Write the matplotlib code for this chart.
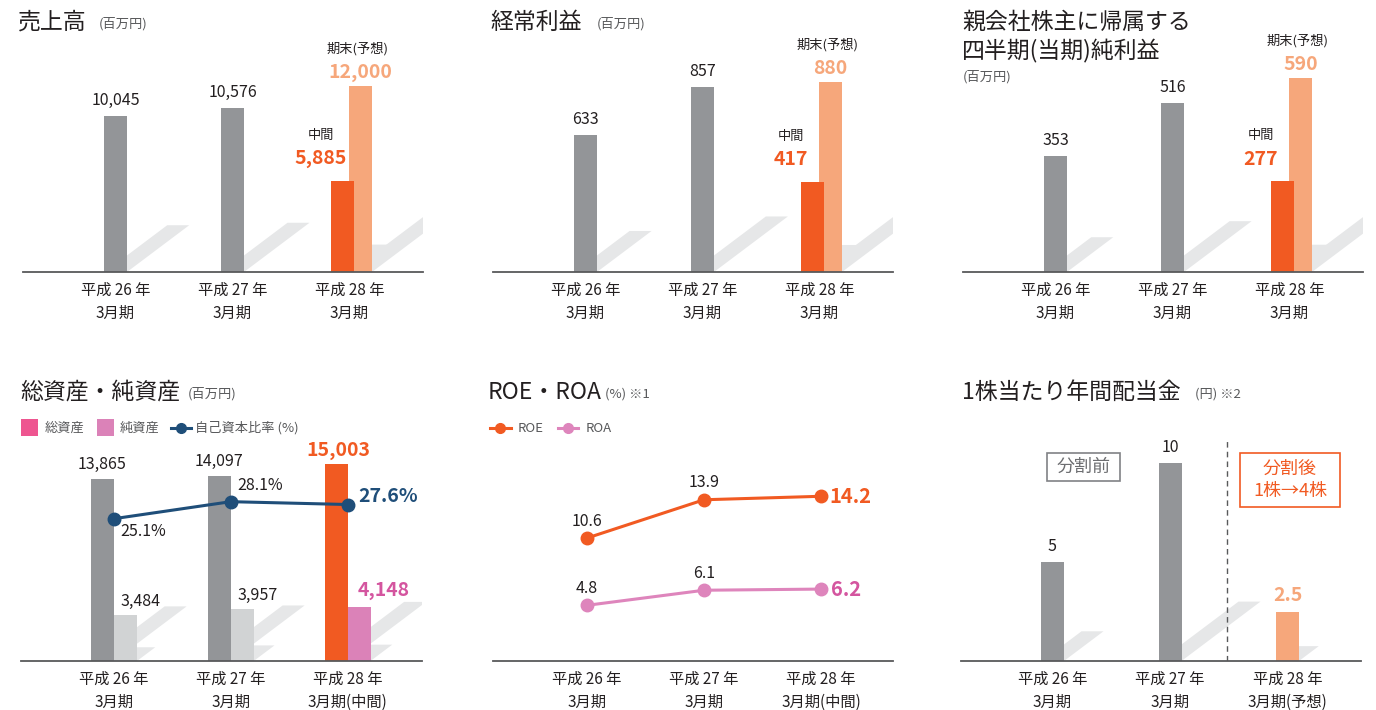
import matplotlib
matplotlib.use('Agg')
import matplotlib.pyplot as plt
from matplotlib.patches import Polygon, Rectangle
from matplotlib.lines import Line2D

plt.rcParams['font.family'] = ['Noto Sans CJK JP', 'DejaVu Sans']

# data
years = ['平成 26 年\n3月期', '平成 27 年\n3月期', '平成 28 年\n3月期']
years_mid = ['平成 26 年\n3月期', '平成 27 年\n3月期', '平成 28 年\n3月期(中間)']
years_fc = ['平成 26 年\n3月期', '平成 27 年\n3月期', '平成 28 年\n3月期(予想)']

sales = [10045, 10576]
sales_mid, sales_fc = 5885, 12000
ordinary = [633, 857]
ordinary_mid, ordinary_fc = 417, 880
net_income = [353, 516]
net_mid, net_fc = 277, 590

total_assets = [13865, 14097, 15003]
net_assets = [3484, 3957, 4148]
equity_ratio = [25.1, 28.1, 27.6]

roe = [10.6, 13.9, 14.2]
roa = [4.8, 6.1, 6.2]

dividend = [5, 10, 2.5]

# colours
GRAY = '#939598'
LGRAY = '#D1D3D4'
SHADOW = '#E6E7E8'
ORANGE = '#F15A22'
LORANGE = '#F6A77B'
PINK = '#EE5590'
LPINK = '#DB82B8'
PINK_TXT = '#D4559F'
NAVY = '#1F4E79'
ROA_C = '#DE85BC'
TXT = '#231F20'
SUB = '#58595B'

W, H = 1376, 710
fig = plt.figure(figsize=(W / 100, H / 100), dpi=100)


def make_ax(x0, x1, base, top, c0, step, scale):
    ax = fig.add_axes([x0 / W, (H - base) / H, (x1 - x0) / W, (base - top) / H])
    ax.set_xlim((x0 - c0) / step, (x1 - c0) / step)
    ax.set_ylim(0, (base - top) / scale)
    for s in ['top', 'left', 'right']:
        ax.spines[s].set_visible(False)
    ax.spines['bottom'].set_color(SUB)
    ax.spines['bottom'].set_linewidth(1.3)
    ax.set_yticks([])
    ax.patch.set_alpha(0)
    ax.tick_params(axis='x', length=0, pad=7, labelsize=11, labelcolor=TXT)
    p = dict(c0=c0, step=step, scale=scale, base=base)
    return ax, p


def set_labels(ax, labels):
    ax.set_xticks(range(len(labels)))
    ax.set_xticklabels(labels, linespacing=1.45)


def shadow(ax, xr, h):
    # slanted grey shadow cast to the right of a bar
    x, y = ax.transData.transform((xr, 0))
    hp = ax.transData.transform((xr, h))[1] - y
    s = 0.3 * hp
    pts = [(x, y), (x + 1.33 * s, y + s), (x + 1.33 * s - 22, y + s), (x - 22, y)]
    data = ax.transData.inverted().transform(pts)
    ax.add_patch(Polygon(data, closed=True, fc=SHADOW, ec='none', zorder=1))


def bars(ax, p, xs, vals, colors):
    w = 23 / p['step']
    for x, v, c in zip(xs, vals, colors):
        ax.bar(x, v, width=w, color=c, zorder=2)
        shadow(ax, x + w / 2, v)


def title(x, y, s, size=16.5):
    fig.text(x / W, 1 - y / H, s, fontsize=size, color=TXT, va='center', ha='left')


def unit(x, y, s):
    fig.text(x / W, 1 - y / H, s, fontsize=9.5, color=SUB, va='center', ha='left')


def top_panel(col, past, mid, fc, scale):
    ox = 470 * col
    ax, p = make_ax(23 + ox, 423 + ox, 272, 30, 115.5 + ox, 117, scale)
    st = p['step']
    xs = [0, 1, 2 + 11 / st, 2 - 7 / st]
    bars(ax, p, xs, past + [fc, mid], [GRAY, GRAY, LORANGE, ORANGE])
    for x, v in zip([0, 1], past):
        ax.annotate(f'{v:,}', (x, v), xytext=(0, 5), textcoords='offset points',
                    ha='center', va='bottom', fontsize=11.5, color=TXT)
    ax.annotate(f'{fc:,}', (2 + 11 / st, fc), xytext=(0, 3), textcoords='offset points',
                ha='center', va='bottom', fontsize=14, fontweight='bold', color=LORANGE)
    ax.annotate('期末(予想)', (2 + 11 / st, fc), xytext=(-2, 22), textcoords='offset points',
                ha='center', va='bottom', fontsize=9.5, color=TXT)
    ax.annotate(f'{mid:,}', (2 - 29 / st, mid), xytext=(0, 9), textcoords='offset points',
                ha='center', va='bottom', fontsize=14, fontweight='bold', color=ORANGE)
    ax.annotate('中間', (2 - 29 / st, mid), xytext=(0, 28), textcoords='offset points',
                ha='center', va='bottom', fontsize=9.5, color=TXT)
    set_labels(ax, years)
    return ax


# ---- top row
top_panel(0, sales, sales_mid, sales_fc, 0.01552)
title(18, 22, '売上高')
unit(99, 24, '(百万円)')

top_panel(1, ordinary, ordinary_mid, ordinary_fc, 0.216)
title(490, 22, '経常利益')
unit(597, 24, '(百万円)')

top_panel(2, net_income, net_mid, net_fc, 0.3283)
title(962, 22, '親会社株主に帰属する')
title(962, 51, '四半期(当期)純利益')
unit(963, 77, '(百万円)')

# ---- total / net assets
ax4, p4 = make_ax(21, 422, 661, 440, 114, 116.75, 0.01313)
st = p4['step']
gx = [i - 11.5 / st for i in range(3)]
lx = [i + 11.5 / st for i in range(3)]
bars(ax4, p4, gx, total_assets, [GRAY, GRAY, ORANGE])
bars(ax4, p4, lx, net_assets, [LGRAY, LGRAY, LPINK])
for x, v in zip(gx[:2], total_assets[:2]):
    ax4.annotate(f'{v:,}', (x, v), xytext=(0, 4), textcoords='offset points',
                 ha='center', va='bottom', fontsize=11.5, color=TXT)
for x, v in zip(lx[:2], net_assets[:2]):
    ax4.annotate(f'{v:,}', (x, v), xytext=(11, 4), textcoords='offset points',
                 ha='center', va='bottom', fontsize=11.5, color=TXT)
ax4.annotate(f'{total_assets[2]:,}', (gx[2], total_assets[2]), xytext=(2, 3),
             textcoords='offset points', ha='center', va='bottom', fontsize=14,
             fontweight='bold', color=ORANGE)
ax4.annotate(f'{net_assets[2]:,}', (lx[2], net_assets[2]), xytext=(-1, 5),
             textcoords='offset points', ha='left', va='bottom', fontsize=14,
             fontweight='bold', color=PINK_TXT)
set_labels(ax4, years_mid)

ax4b = ax4.twinx()
ax4b.set_ylim(0, (661 - 440) / 5.67)
ax4b.set_yticks([])
for s in ax4b.spines.values():
    s.set_visible(False)
ax4b.plot(range(3), equity_ratio, color=NAVY, lw=2.2, marker='o', ms=9, zorder=5)
ax4b.annotate(f'{equity_ratio[0]}%', (0, equity_ratio[0]), xytext=(21, -9),
              textcoords='offset points', ha='center', va='center', fontsize=11.5, color=TXT)
ax4b.annotate(f'{equity_ratio[1]}%', (1, equity_ratio[1]), xytext=(21, 12),
              textcoords='offset points', ha='center', va='center', fontsize=11.5, color=TXT)
ax4b.annotate(f'{equity_ratio[2]}%', (2, equity_ratio[2]), xytext=(8, 6),
              textcoords='offset points', ha='left', va='center', fontsize=14,
              fontweight='bold', color=NAVY)

title(20, 392, '総資産・純資産')
unit(188, 394, '(百万円)')

# legend of assets panel
ly = 1 - 428 / H
fig.add_artist(Rectangle((21 / W, 1 - 436 / H), 17 / W, 17 / H, transform=fig.transFigure,
                         fc=PINK, ec='none'))
fig.text(45 / W, ly, '総資産', fontsize=9.5, color=SUB, va='center')
fig.add_artist(Rectangle((97 / W, 1 - 436 / H), 17 / W, 17 / H, transform=fig.transFigure,
                         fc=LPINK, ec='none'))
fig.text(120 / W, ly, '純資産', fontsize=9.5, color=SUB, va='center')
fig.add_artist(Line2D([171 / W, 191 / W], [ly, ly], transform=fig.transFigure, color=NAVY, lw=2.2))
fig.add_artist(Line2D([181 / W], [ly], transform=fig.transFigure, color=NAVY, marker='o', ms=7))
fig.text(195 / W, ly, '自己資本比率 (%)', fontsize=9.5, color=SUB, va='center')

# ---- ROE / ROA
ax5, p5 = make_ax(493, 893, 661, 440, 587, 117, 11.6)
ax5.plot(range(3), roe, color=ORANGE, lw=2.2, marker='o', ms=9, zorder=3)
ax5.plot(range(3), roa, color=ROA_C, lw=2.2, marker='o', ms=9, zorder=3)
for i in range(2):
    ax5.annotate(f'{roe[i]}', (i, roe[i]), xytext=(0, 6), textcoords='offset points',
                 ha='center', va='bottom', fontsize=11.5, color=TXT)
    ax5.annotate(f'{roa[i]}', (i, roa[i]), xytext=(0, 6), textcoords='offset points',
                 ha='center', va='bottom', fontsize=11.5, color=TXT)
ax5.annotate(f'{roe[2]}', (2, roe[2]), xytext=(6, 0), textcoords='offset points',
             ha='left', va='center', fontsize=14.5, fontweight='bold', color=ORANGE)
ax5.annotate(f'{roa[2]}', (2, roa[2]), xytext=(7, 0), textcoords='offset points',
             ha='left', va='center', fontsize=14.5, fontweight='bold', color=PINK_TXT)
set_labels(ax5, years_mid)

title(488, 392, 'ROE・ROA')
unit(605, 394, '(%) ※1')
fig.add_artist(Line2D([490 / W, 511 / W], [ly, ly], transform=fig.transFigure, color=ORANGE, lw=2.2))
fig.add_artist(Line2D([500 / W], [ly], transform=fig.transFigure, color=ORANGE, marker='o', ms=7))
fig.text(518 / W, ly, 'ROE', fontsize=9.5, color=SUB, va='center')
fig.add_artist(Line2D([558 / W, 578 / W], [ly, ly], transform=fig.transFigure, color=ROA_C, lw=2.2))
fig.add_artist(Line2D([568 / W], [ly], transform=fig.transFigure, color=ROA_C, marker='o', ms=7))
fig.text(586 / W, ly, 'ROA', fontsize=9.5, color=SUB, va='center')

# ---- dividend
ax6, p6 = make_ax(961, 1361, 661, 440, 1052.5, 117.5, 19.8)
bars(ax6, p6, range(3), dividend, [GRAY, GRAY, LORANGE])
for i in range(2):
    ax6.annotate(f'{dividend[i]}', (i, dividend[i]), xytext=(0, 5), textcoords='offset points',
                 ha='center', va='bottom', fontsize=11.5, color=TXT)
ax6.annotate(f'{dividend[2]}', (2, dividend[2]), xytext=(0, 5), textcoords='offset points',
             ha='center', va='bottom', fontsize=14, fontweight='bold', color=LORANGE)
set_labels(ax6, years_fc)


def to_data(p, x, y):
    return (x - p['c0']) / p['step'], (p['base'] - y) / p['scale']


vx, vy = to_data(p6, 1227, 428)
ax6.vlines(vx, 0, vy, colors=SUB, linestyles=(0, (4, 3)), lw=1, zorder=1)

bx0, by0 = to_data(p6, 1047, 481)
bx1, by1 = to_data(p6, 1120, 453)
ax6.add_patch(Rectangle((bx0, by0), bx1 - bx0, by1 - by0, fc='white', ec='#808285', lw=1.2))
ax6.text((bx0 + bx1) / 2, (by0 + by1) / 2, '分割前', ha='center', va='center',
         fontsize=13, color='#6D6E71')
bx0, by0 = to_data(p6, 1240, 507)
bx1, by1 = to_data(p6, 1340, 453)
ax6.add_patch(Rectangle((bx0, by0), bx1 - bx0, by1 - by0, fc='white', ec=ORANGE, lw=1.2))
ax6.text((bx0 + bx1) / 2, (by0 + by1) / 2, '分割後\n1株→4株', ha='center', va='center',
         fontsize=13, color=ORANGE, linespacing=1.25)

title(962, 392, '1株当たり年間配当金')
unit(1195, 394, '(円) ※2')

fig.savefig('out.png', dpi=100)
